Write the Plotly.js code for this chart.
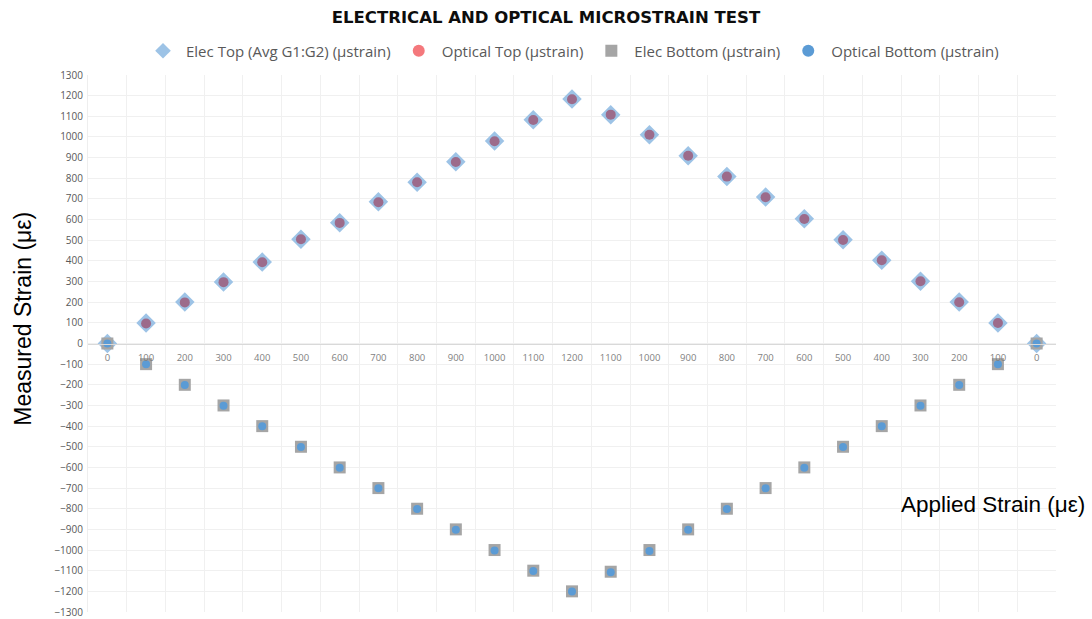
<!DOCTYPE html>
<html>
<head>
<meta charset="utf-8">
<script src="https://cdn.plot.ly/plotly-3.0.1.min.js"></script>
<style>html,body{margin:0;padding:0;background:#fff;}#chart{width:1092px;height:619px;}</style>
</head>
<body>
<div id="chart"></div>
<script>
const categories = ["0","100","200","300","400","500","600","700","800","900","1000","1100","1200","1100","1000","900","800","700","600","500","400","300","200","100","0"];
const elecTop = [0, 99, 201, 298, 394, 505, 585, 686, 781, 880, 980, 1083, 1184, 1108, 1011, 909, 808, 709, 604, 502, 403, 301, 201, 99, 0];
const opticalTop = [0, 97, 199, 297, 393, 505, 584, 684, 781, 879, 979, 1082, 1183, 1108, 1011, 909, 808, 708, 603, 501, 403, 301, 200, 99, 0];
const elecBottom = [0, -100, -200, -300, -400, -500, -600, -700, -800, -900, -1000, -1100, -1200, -1105, -1000, -900, -800, -700, -600, -500, -400, -300, -200, -100, 0];
const opticalBottom = [0, -101, -201, -301, -401, -501, -601, -701, -801, -902, -1002, -1102, -1201, -1108, -1005, -902, -801, -701, -601, -501, -401, -301, -201, -101, 0];
const seriesNames = ["Elec Top (Avg G1:G2) (µstrain)", "Optical Top (µstrain)", "Elec Bottom (µstrain)", "Optical Bottom (µstrain)"];

const idx = categories.map((_, i) => i);
const boundaries = [];
for (let i = 0; i <= categories.length; i++) boundaries.push(i - 0.5);
const yTicks = [];
for (let v = -1300; v <= 1300; v += 100) yTicks.push(v);

const traces = [
  {x: idx, y: elecTop, name: seriesNames[0], type: 'scatter', mode: 'markers',
   marker: {symbol: 'diamond', size: 15, color: '#9DC3E6'}, showlegend: true},
  {x: idx, y: opticalTop, name: seriesNames[1], type: 'scatter', mode: 'markers',
   marker: {symbol: 'circle', size: 10, color: '#9C6B8B'}, showlegend: false},
  {x: [null], y: [null], name: seriesNames[1], type: 'scatter', mode: 'markers',
   marker: {symbol: 'circle', size: 10, color: '#F4787C'}, showlegend: true},
  {x: idx, y: elecBottom, name: seriesNames[2], type: 'scatter', mode: 'markers',
   marker: {symbol: 'square', size: 12, color: '#A5A5A5'}, showlegend: true},
  {x: idx, y: opticalBottom, name: seriesNames[3], type: 'scatter', mode: 'markers',
   marker: {symbol: 'circle', size: 8, color: '#5B9BD5'}, showlegend: true}
];

const layout = {
  width: 1092, height: 619,
  margin: {l: 88, r: 36, t: 75, b: 7},
  paper_bgcolor: '#ffffff', plot_bgcolor: '#ffffff',
  title: {text: '<b>ELECTRICAL AND OPTICAL MICROSTRAIN TEST</b>',
          font: {family: 'DejaVu Sans', size: 16.5, color: '#0d0d0d'},
          x: 0.5, xanchor: 'center', y: 0.9725, yanchor: 'middle'},
  showlegend: true,
  legend: {orientation: 'h', x: 0.5, xanchor: 'center', y: 1.0447, yanchor: 'middle',
           font: {family: 'Open Sans', size: 15, color: '#595959'}, traceorder: 'normal',
           itemsizing: 'constant', itemwidth: 36},
  xaxis: {
    range: [-0.5, categories.length - 0.5],
    tickmode: 'array', tickvals: idx, ticktext: categories,
    tickfont: {family: 'Open Sans', size: 9.5, color: '#7f7f7f'},
    showgrid: false, zeroline: false,
    showline: true, linecolor: '#d9d9d9', linewidth: 1,
    anchor: 'free', position: 0.5,
    ticks: '', ticklen: 0, ticklabelstandoff: 5,
    minor: {tickmode: 'array', tickvals: boundaries, showgrid: true, gridcolor: '#f0f0f0', gridwidth: 1, ticks: ''},
    fixedrange: true
  },
  yaxis: {
    range: [-1300, 1300],
    tickmode: 'array', tickvals: yTicks,
    tickfont: {family: 'Open Sans', size: 10, color: '#595959'},
    showgrid: true, gridcolor: '#f0f0f0', gridwidth: 1,
    zeroline: false, showline: true, linecolor: '#eeeeee',
    ticks: '', ticklabelstandoff: 2,
    fixedrange: true
  },
  annotations: [
    {text: 'Applied Strain (με)', xref: 'paper', yref: 'paper', x: 1.032, y: 0.2, xanchor: 'right', yanchor: 'middle',
     showarrow: false, font: {family: 'Liberation Sans', size: 22.5, color: '#000000'}},
    {text: 'Measured Strain (με)', xref: 'paper', yref: 'paper', x: -0.068, y: 0.5465, xanchor: 'center', yanchor: 'middle',
     textangle: -90, showarrow: false, font: {family: 'Liberation Sans', size: 23, color: '#000000'}}
  ]
};

Plotly.newPlot('chart', traces, layout, {displayModeBar: false, staticPlot: true});
</script>
</body>
</html>
